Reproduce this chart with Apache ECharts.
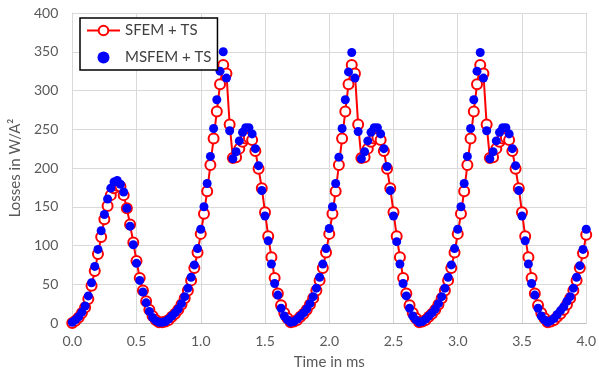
<!DOCTYPE html>
<html>
<head>
<meta charset="utf-8">
<script src="https://cdn.jsdelivr.net/npm/echarts@6/dist/echarts.min.js"></script>
<style>
html,body{margin:0;padding:0;background:#fff;}
#chart{width:599px;height:375px;}
</style>
</head>
<body>
<div id="chart"></div>
<script>
// Time in ms
const times = [
0.000,0.025,0.050,0.075,0.100,0.125,0.150,0.175,0.200,0.225,
0.250,0.275,0.300,0.325,0.350,0.375,0.400,0.425,0.450,0.475,
0.500,0.525,0.550,0.575,0.600,0.625,0.650,0.675,0.700,0.725,
0.750,0.775,0.800,0.825,0.850,0.875,0.900,0.925,0.950,0.975,
1.000,1.025,1.050,1.075,1.100,1.125,1.150,1.175,1.200,1.225,
1.250,1.275,1.300,1.325,1.350,1.375,1.400,1.425,1.450,1.475,
1.500,1.525,1.550,1.575,1.600,1.625,1.650,1.675,1.700,1.725,
1.750,1.775,1.800,1.825,1.850,1.875,1.900,1.925,1.950,1.975,
2.000,2.025,2.050,2.075,2.100,2.125,2.150,2.175,2.200,2.225,
2.250,2.275,2.300,2.325,2.350,2.375,2.400,2.425,2.450,2.475,
2.500,2.525,2.550,2.575,2.600,2.625,2.650,2.675,2.700,2.725,
2.750,2.775,2.800,2.825,2.850,2.875,2.900,2.925,2.950,2.975,
3.000,3.025,3.050,3.075,3.100,3.125,3.150,3.175,3.200,3.225,
3.250,3.275,3.300,3.325,3.350,3.375,3.400,3.425,3.450,3.475,
3.500,3.525,3.550,3.575,3.600,3.625,3.650,3.675,3.700,3.725,
3.750,3.775,3.800,3.825,3.850,3.875,3.900,3.925,3.950,3.975,
4.000
];

// SFEM + TS (red, open circles with line)
const sfem = [
0,3,7,13,20,31,48,67,89,111,
134,151,165,174,177,176,165,148,127,104,
80,58,42,28,17,9,4,1,1,2,
4,8,12,17,24,32,42,55,71,91,
115,141,170,204,238,273,308,333,322,256,
213,214,225,234,238,239,236,222,199,174,
143,112,85,58,38,23,13,6,1,2,
4,8,12,17,24,32,42,55,71,91,
115,141,170,204,238,273,308,333,322,256,
213,214,225,234,238,239,236,222,199,174,
143,112,85,58,38,23,13,6,1,2,
4,8,12,17,24,32,42,55,71,91,
115,141,170,204,238,273,308,333,322,256,
213,214,225,234,238,239,236,222,199,174,
143,112,85,58,38,23,13,6,1,2,
4,8,12,17,24,32,42,55,71,90,
114
];

// MSFEM + TS (blue, filled circles)
const msfem = [
1,4,8,14,22,35,52,73,95,119,
140,160,174,182,184,179,169,148,125,101,
77,55,40,26,15,7,3,1,1,2,
5,9,13,18,25,34,45,59,75,96,
121,150,180,215,251,288,325,350,316,248,
212,221,235,246,252,252,244,225,203,171,
138,106,76,51,36,19,9,4,1,2,
5,9,13,18,25,34,45,59,76,96,
122,150,180,214,251,288,324,349,316,247,
212,221,235,246,252,252,244,225,202,171,
138,105,76,51,35,19,9,4,1,2,
5,9,13,18,25,34,45,59,75,96,
121,150,180,215,251,288,325,349,316,248,
212,221,235,246,252,252,244,225,203,171,
138,106,76,51,36,19,9,4,1,3,
6,11,16,21,28,34,45,59,74,95,
121
];

const xTicks = [0,0.5,1,1.5,2,2.5,3,3.5,4];
const yTicks = [0,50,100,150,200,250,300,350,400];

const pairs = (ys) => times.map((t,i) => [t, ys[i]]);
const FONT = 'Lato';

const chart = echarts.init(document.getElementById('chart'), null, {renderer:'canvas'});
chart.setOption({
  animation:false,
  backgroundColor:'#ffffff',
  textStyle:{fontFamily:FONT},
  grid:{left:72, right:11.5, top:13, bottom:50, containLabel:false},
  legend:{
    orient:'vertical', left:80, top:18,
    padding:[5,6,5,6], itemGap:12, itemWidth:33, itemHeight:12,
    backgroundColor:'#ffffff', borderColor:'#000000', borderWidth:1.5, borderRadius:0,
    textStyle:{fontFamily:FONT, fontSize:15, color:'#404040'},
    data:['SFEM + TS','MSFEM + TS']
  },
  xAxis:{
    type:'value', min:xTicks[0], max:xTicks[xTicks.length-1], interval:0.5,
    name:'Time in ms', nameLocation:'middle', nameGap:32,
    nameTextStyle:{fontFamily:FONT, fontSize:15, color:'#595959'},
    axisLine:{show:true, lineStyle:{color:'#bfbfbf', width:1}},
    axisTick:{show:false},
    axisLabel:{fontFamily:FONT, fontSize:14, color:'#595959', margin:11, formatter:v=>v.toFixed(1)},
    splitLine:{show:true, lineStyle:{color:'#d9d9d9', width:1}}
  },
  yAxis:{
    type:'value', min:yTicks[0], max:yTicks[yTicks.length-1], interval:50,
    name:'Losses in W/A²', nameLocation:'middle', nameGap:42,
    nameTextStyle:{fontFamily:FONT, fontSize:15, color:'#595959'},
    axisLine:{show:true, lineStyle:{color:'#d9d9d9', width:1}},
    axisTick:{show:false},
    axisLabel:{fontFamily:FONT, fontSize:14, color:'#595959', margin:14},
    splitLine:{show:true, lineStyle:{color:'#d9d9d9', width:1}}
  },
  series:[
    {
      name:'SFEM + TS', type:'line', data:pairs(sfem),
      symbol:'emptyCircle', symbolSize:10, showAllSymbol:true,
      lineStyle:{color:'#ff0000', width:2},
      itemStyle:{color:'#ff0000', borderColor:'#ff0000', borderWidth:1.5},
      z:2
    },
    {
      name:'MSFEM + TS', type:'scatter', data:pairs(msfem),
      symbol:'circle', symbolSize:9,
      itemStyle:{color:'#0000ff', opacity:1},
      z:3
    }
  ]
});
</script>
</body>
</html>
